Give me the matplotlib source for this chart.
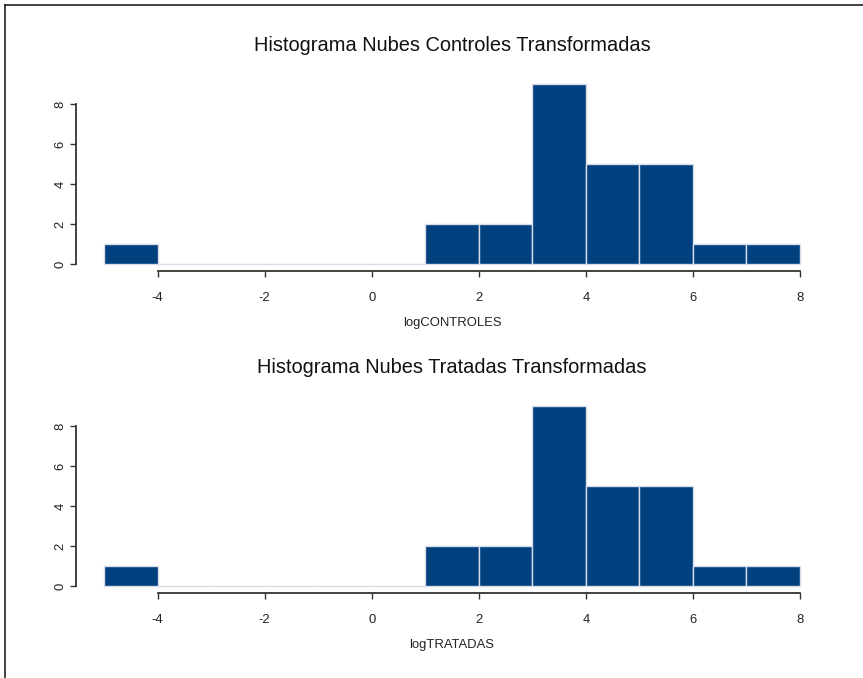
import matplotlib
matplotlib.use("Agg")
import matplotlib.pyplot as plt
from matplotlib.lines import Line2D

# histogram data (bins of width 1 from -5 to 8)
bin_edges = [-5, -4, -3, -2, -1, 0, 1, 2, 3, 4, 5, 6, 7, 8]
counts_controles = [1, 0, 0, 0, 0, 0, 2, 2, 9, 5, 5, 1, 1]
counts_tratadas = [1, 0, 0, 0, 0, 0, 2, 2, 9, 5, 5, 1, 1]
x_ticks = [-4, -2, 0, 2, 4, 6, 8]
y_ticks = [0, 2, 4, 6, 8]

plt.rcParams['font.family'] = ['Liberation Sans', 'DejaVu Sans']
plt.rcParams['axes.unicode_minus'] = False

fig = plt.figure(figsize=(8.63, 6.78), dpi=100)

panels = [
    (0.600, counts_controles, "Histograma Nubes Controles Transformadas", "logCONTROLES"),
    (0.125, counts_tratadas, "Histograma Nubes Tratadas Transformadas", "logTRATADAS"),
]

for bottom, counts, title, xlabel in panels:
    ax = fig.add_axes([0.0883, bottom, 0.871, 0.2864])
    lefts = bin_edges[:-1]
    widths = [b - a for a, b in zip(bin_edges[:-1], bin_edges[1:])]
    ax.bar(lefts, counts, width=widths, align='edge', color='#00407f',
           edgecolor='#d6dce8', linewidth=1.0)
    ax.set_xlim(-5.52, 8.52)
    ax.set_ylim(-0.36, 9.36)
    for s in ['top', 'right']:
        ax.spines[s].set_visible(False)
    ax.spines['left'].set_bounds(0, 8)
    ax.spines['bottom'].set_bounds(-4, 8)
    for s in ['left', 'bottom']:
        ax.spines[s].set_color('#333333')
        ax.spines[s].set_linewidth(1.3)
    ax.set_xticks(x_ticks)
    ax.set_yticks(y_ticks)
    ax.tick_params(axis='both', length=4, width=1, color='#333333',
                   labelsize=9.4, labelcolor='#222222')
    ax.tick_params(axis='x', pad=11)
    ax.tick_params(axis='y', pad=3)
    for lbl in ax.get_yticklabels():
        lbl.set_rotation(90)
        lbl.set_va('center')
    ax.set_xlabel(xlabel, fontsize=9.4, labelpad=9, color='#222222')
    ax.set_title(title, fontsize=14.4, pad=19, color='#111111')

# frame lines on left and top of the figure
fig.add_artist(Line2D([0.006, 0.006], [0.0, 0.993], transform=fig.transFigure,
                      color='#222222', linewidth=1.2))
fig.add_artist(Line2D([0.006, 1.0], [0.993, 0.993], transform=fig.transFigure,
                      color='#222222', linewidth=1.2))

fig.savefig("out.png", dpi=100)
